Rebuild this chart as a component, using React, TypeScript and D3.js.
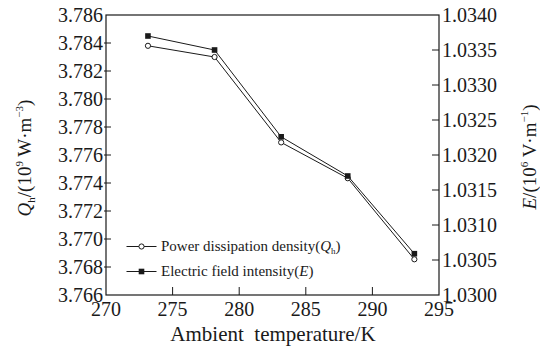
import React from "react";
import * as d3 from "d3";

const temps = [273.15, 278.15, 283.15, 288.15, 293.15];
const qhValues = [3.7838, 3.783, 3.7769, 3.77434, 3.76855];
const eValues = [1.0337, 1.0335, 1.03226, 1.0317, 1.03059];
const xTicks = [270, 275, 280, 285, 290, 295];
const qhTicks = [3.766, 3.768, 3.77, 3.772, 3.774, 3.776, 3.778, 3.78, 3.782, 3.784, 3.786];
const eTicks = [1.03, 1.0305, 1.031, 1.0315, 1.032, 1.0325, 1.033, 1.0335, 1.034];
const legendLabels = ["Power dissipation density", "Electric field intensity"];

const W = 540;
const H = 351;
const L = 106;
const R = 439;
const T = 15;
const B = 295;
const INK = "#1a1a1a";
const FONT = '"Times New Roman", "Liberation Serif", "DejaVu Serif", serif';

export default function App() {
  const x = d3.scaleLinear().domain([270, 295]).range([L, R]);
  const yQ = d3.scaleLinear().domain([3.766, 3.786]).range([B, T]);
  const yE = d3.scaleLinear().domain([1.03, 1.034]).range([B, T]);

  const lineQ = d3
    .line<number>()
    .x((_, i) => x(temps[i]))
    .y((d) => yQ(d));
  const lineE = d3
    .line<number>()
    .x((_, i) => x(temps[i]))
    .y((d) => yE(d));

  const legY1 = 246.5;
  const legY2 = 271.5;
  const ts = { fontFamily: FONT };

  return (
    <svg
      width={W}
      height={H}
      style={{ position: "absolute", left: 0, top: 0, background: "#fff", fontFamily: FONT }}
    >
      <rect x={0} y={0} width={W} height={H} fill="#fff" />
      {/* frame */}
      <rect x={L} y={T} width={R - L} height={B - T} fill="none" stroke={INK} strokeWidth={1.2} />

      {/* bottom ticks */}
      {xTicks.map((t) => (
        <g key={"x" + t}>
          {t !== 270 && t !== 295 && (
            <line x1={x(t)} x2={x(t)} y1={B} y2={B - 8} stroke={INK} strokeWidth={1} />
          )}
          <text x={x(t)} y={316} fontSize={20} textAnchor="middle" fill={INK} style={ts}>
            {t}
          </text>
        </g>
      ))}

      {/* left ticks */}
      {qhTicks.map((t, i) => (
        <g key={"q" + t}>
          {i !== 0 && i !== qhTicks.length - 1 && (
            <line x1={L - 2} x2={L + 5} y1={yQ(t)} y2={yQ(t)} stroke={INK} strokeWidth={1} />
          )}
          <text x={L - 3} y={yQ(t)} dy="0.33em" fontSize={20} textAnchor="end" fill={INK} style={ts}>
            {t.toFixed(3)}
          </text>
        </g>
      ))}

      {/* right ticks */}
      {eTicks.map((t, i) => (
        <g key={"e" + t}>
          {i !== 0 && i !== eTicks.length - 1 && (
            <line x1={R - 7} x2={R} y1={yE(t)} y2={yE(t)} stroke={INK} strokeWidth={1} />
          )}
          <text x={R + 3} y={yE(t)} dy="0.33em" fontSize={20} textAnchor="start" fill={INK} style={ts}>
            {t.toFixed(4)}
          </text>
        </g>
      ))}

      {/* series */}
      <path d={lineQ(qhValues) || ""} fill="none" stroke={INK} strokeWidth={1} />
      <path d={lineE(eValues) || ""} fill="none" stroke={INK} strokeWidth={1} />
      {qhValues.map((v, i) => (
        <circle key={"qc" + i} cx={x(temps[i])} cy={yQ(v)} r={2.6} fill="#fff" stroke={INK} strokeWidth={1} />
      ))}
      {eValues.map((v, i) => (
        <rect key={"er" + i} x={x(temps[i]) - 2.8} y={yE(v) - 2.8} width={5.6} height={5.6} fill={INK} />
      ))}

      {/* legend */}
      <line x1={126.5} x2={156.5} y1={legY1} y2={legY1} stroke={INK} strokeWidth={1} />
      <circle cx={141.5} cy={legY1} r={2.6} fill="#fff" stroke={INK} strokeWidth={1} />
      <text x={161} y={legY1} dy="0.33em" fontSize={15} fill={INK} style={ts}>
        {legendLabels[0]}(<tspan fontStyle="italic">Q</tspan>
        <tspan fontSize={9} dy="3">h</tspan>
        <tspan dy="-3">)</tspan>
      </text>
      <line x1={126.5} x2={156.5} y1={legY2} y2={legY2} stroke={INK} strokeWidth={1} />
      <rect x={141.5 - 2.8} y={legY2 - 2.8} width={5.6} height={5.6} fill={INK} />
      <text x={161} y={legY2} dy="0.33em" fontSize={15} fill={INK} style={ts}>
        {legendLabels[1]}(<tspan fontStyle="italic">E</tspan>)
      </text>

      {/* x title */}
      <text x={273} y={341} fontSize={21} textAnchor="middle" fill={INK} style={{ ...ts, whiteSpace: "pre" }}>
        {"Ambient  temperature/K"}
      </text>

      {/* left title */}
      <text
        transform={`translate(31,158) rotate(-90)`}
        fontSize={19}
        textAnchor="middle"
        fill={INK}
        style={ts}
      >
        <tspan fontStyle="italic">Q</tspan>
        <tspan fontSize={11} dy="4">h</tspan>
        <tspan dy="-4">/(10</tspan>
        <tspan fontSize={11} dy="-8">9</tspan>
        <tspan dy="8">{" W·m"}</tspan>
        <tspan fontSize={11} dy="-8">−3</tspan>
        <tspan dy="8">)</tspan>
      </text>

      {/* right title */}
      <text
        transform={`translate(536,157) rotate(-90)`}
        fontSize={19}
        textAnchor="middle"
        fill={INK}
        style={ts}
      >
        <tspan fontStyle="italic">E</tspan>
        <tspan>/(10</tspan>
        <tspan fontSize={11} dy="-8">6</tspan>
        <tspan dy="8">{" V·m"}</tspan>
        <tspan fontSize={11} dy="-8">−1</tspan>
        <tspan dy="8">)</tspan>
      </text>
    </svg>
  );
}
